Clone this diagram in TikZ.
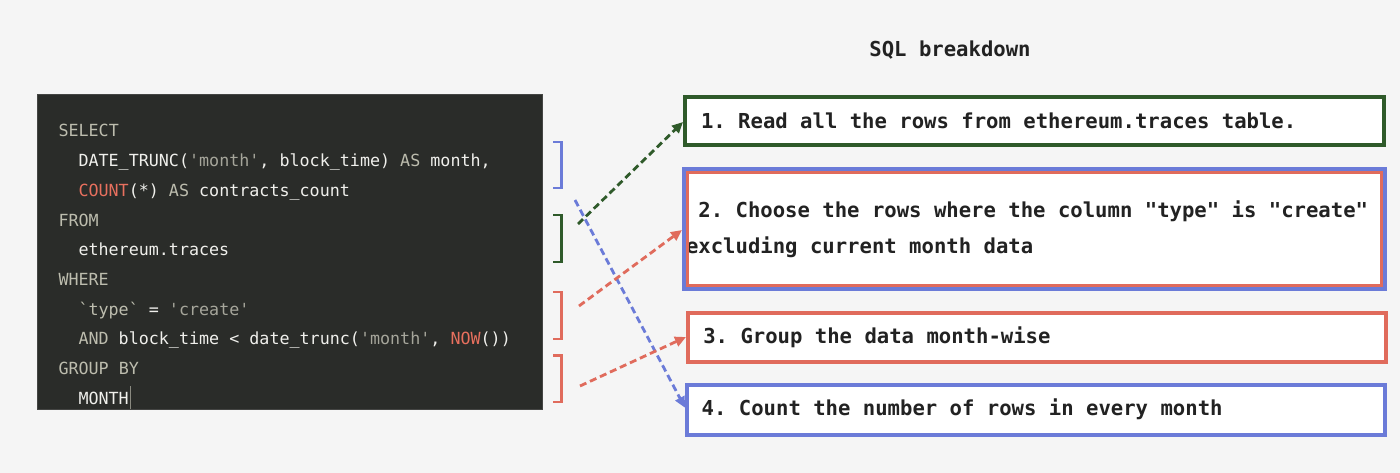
\documentclass[tikz,border=0pt]{standalone}
\usepackage{fontspec}
\setmonofont{DejaVu Sans Mono}
\newfontfamily\boxfont{DejaVu Sans Mono}[BoldFont={DejaVu Sans Mono Bold}]
\usetikzlibrary{arrows.meta}
\definecolor{bg}{HTML}{F5F5F5}
\definecolor{codebg}{HTML}{2A2C29}
\definecolor{codefg}{HTML}{F0F0EC}
\definecolor{kw}{HTML}{BDBDAE}
\definecolor{strc}{HTML}{A6A69B}
\definecolor{fnc}{HTML}{E8705E}
\definecolor{txt}{HTML}{222222}
\definecolor{grn}{HTML}{2F5A2A}
\definecolor{blu}{HTML}{6B7BD8}
\definecolor{redc}{HTML}{E06B5C}
\definecolor{cursorc}{HTML}{8A8A80}
\newcommand{\fixsp}{\spaceskip=0pt\xspaceskip=0pt\relax}
\tikzset{
  codeline/.style={anchor=base west, inner sep=0pt, text=codefg,
    font=\ttfamily\fontsize{16.7}{20}\selectfont},
  stepbox/.style={line width=4pt, fill=white, align=left, text=txt,
    inner ysep=0pt, font=\boxfont\bfseries\fontsize{20.6}{36}\selectfont\frenchspacing},
  brace/.style={line width=2.5pt},
  conn/.style={line width=2.8pt, dash pattern=on 7pt off 4pt,
    -{Triangle[length=11pt,width=10pt]}},
}
\begin{document}
\begin{tikzpicture}[x=1pt,y=-1pt]
\fill[bg] (0,0) rectangle (1400,473);
\useasboundingbox (0,0) rectangle (1400,473);

% code panel
\node[fill=codebg, draw=codebg!70!gray, line width=0.6pt, minimum width=505pt, minimum height=315pt, inner sep=0pt] (panel) at (289.5,251.5) {};
\node[codeline] (c1) at (58.3,137) {\textcolor{kw}{SELECT}};
\node[codeline] (c2) at (78.3,166.7) {DATE\_TRUNC(\textcolor{strc}{'month'}, block\_time) \textcolor{kw}{AS} month,};
\node[codeline] (c3) at (78.3,196.4) {\textcolor{fnc}{COUNT}(*) \textcolor{kw}{AS} contracts\_count};
\node[codeline] (c4) at (58.3,226.1) {\textcolor{kw}{FROM}};
\node[codeline] (c5) at (78.3,255.8) {ethereum.traces};
\node[codeline] (c6) at (58.3,285.5) {\textcolor{kw}{WHERE}};
\node[codeline] (c7) at (78.3,315.2) {\textcolor{kw}{`type`} = \textcolor{strc}{'create'}};
\node[codeline] (c8) at (78.3,344.9) {\textcolor{kw}{AND} block\_time < date\_trunc(\textcolor{strc}{'month'}, \textcolor{fnc}{NOW}())};
\node[codeline] (c9) at (58.3,374.6) {\textcolor{kw}{GROUP BY}};
\node[codeline] (c10) at (78.3,404.3) {MONTH};
\coordinate (cur) at (c10.base east);
\draw[cursorc, line width=1pt] ([xshift=2pt,yshift=18pt]cur) -- ([xshift=2pt,yshift=-4.5pt]cur);

% title
\node[anchor=base, inner sep=0pt, text=txt, font=\boxfont\bfseries\fontsize{20.6}{24}\selectfont] (title) at (950,57) {SQL breakdown};

% step boxes
\node[stepbox, draw=grn, inner xsep=16pt, text width=666.5pt, minimum height=48pt] (box1) at (1034.25,121)
  {\fixsp\mbox{1. Read all the rows from ethereum.traces table.}};
\node[stepbox, draw=blu, inner xsep=2pt, text width=697pt, minimum height=119pt] (box2) at (1034.5,229)
  {\fixsp\mbox{~2. Choose the rows where the column "type" is "create"}\\\mbox{excluding current month data}};
\draw[redc, line width=3pt] ([xshift=5.5pt,yshift=-5.5pt]box2.north west) rectangle ([xshift=-5.5pt,yshift=5.5pt]box2.south east);
\node[stepbox, draw=redc, inner xsep=15.3pt, text width=667.4pt, minimum height=49pt] (box3) at (1037,337)
  {\fixsp\mbox{3. Group the data month-wise}};
\node[stepbox, draw=blu, inner xsep=14.7pt, text width=668.6pt, minimum height=49.5pt] (box4) at (1036,409.75)
  {\fixsp\mbox{4. Count the number of rows in every month}};

% brackets
\draw[brace, blu] (553,142) -- (561.5,142) -- (561.5,188) -- (553,188);
\draw[brace, grn] (553,215) -- (561.5,215) -- (561.5,262) -- (553,262);
\draw[brace, redc] (553,292) -- (561.5,292) -- (561.5,339) -- (553,339);
\draw[brace, redc] (553,355.5) -- (561.5,355.5) -- (561.5,402) -- (553,402);

% connector start points
\coordinate (sblu) at (575,200);
\coordinate (sgrn) at (578,224);
\coordinate (sred1) at (579,306);
\coordinate (sred2) at (580,386);

% connectors
\draw[conn, blu] (sblu) -- ([yshift=2pt]box4.west);
\draw[conn, grn] (sgrn) -- ([yshift=-1pt]box1.west);
\draw[conn, redc] (sred1) -- ([yshift=-1pt]box2.west);
\draw[conn, redc] (sred2) -- (box3.west);
\end{tikzpicture}
\end{document}
